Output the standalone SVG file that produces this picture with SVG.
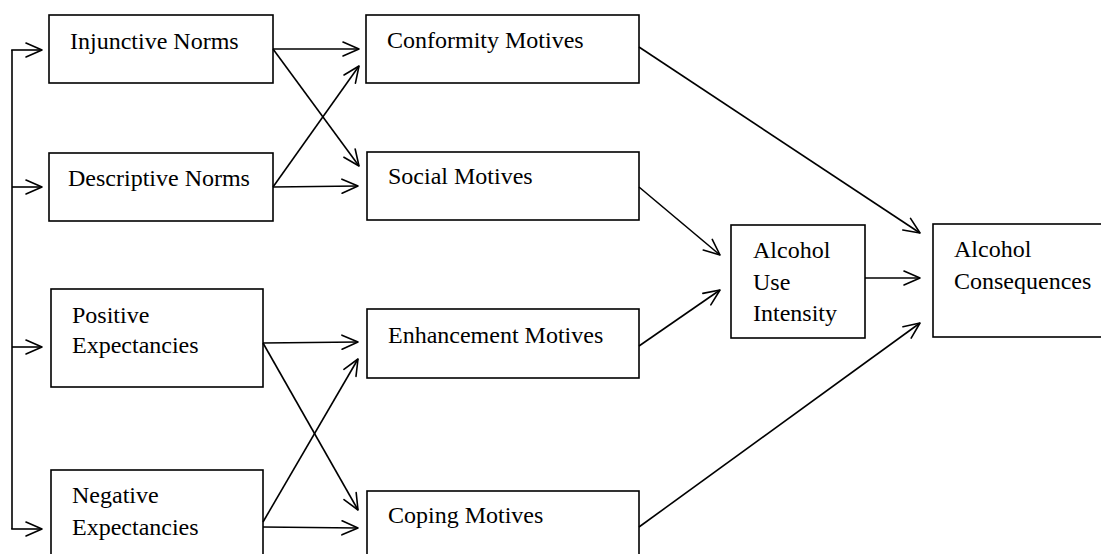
<svg xmlns="http://www.w3.org/2000/svg" width="1101" height="554" viewBox="0 0 1101 554">
<style>
.box{fill:#fff;stroke:#000;stroke-width:1.6}
.t{font-family:"Liberation Serif","Times New Roman","DejaVu Serif",serif;font-size:24px;fill:#000}
.c line{stroke:#000;stroke-width:1.6;marker-end:url(#ah)}
</style>
<defs>
<marker id="ah" markerUnits="userSpaceOnUse" viewBox="-18 -9 20 18" markerWidth="20" markerHeight="18" refX="0" refY="0" orient="auto" overflow="visible">
<path d="M-16,-7 L0,0 L-16,7" fill="none" stroke="#000" stroke-width="1.6" stroke-linejoin="round" stroke-linecap="round"/>
</marker>
</defs>
<rect width="1101" height="554" fill="#fff"/>
<g id="injunctive-norms"><rect class="box" x="49" y="15" width="224" height="68"/><text class="t" x="70" y="49">Injunctive Norms</text></g>
<g id="descriptive-norms"><rect class="box" x="49" y="153" width="224" height="68"/><text class="t" x="68" y="186">Descriptive Norms</text></g>
<g id="positive-expectancies"><rect class="box" x="51" y="289" width="212" height="98"/><text class="t" x="72" y="323">Positive</text><text class="t" x="72" y="353">Expectancies</text></g>
<g id="negative-expectancies"><rect class="box" x="51" y="470" width="212" height="110"/><text class="t" x="72" y="503">Negative</text><text class="t" x="72" y="535">Expectancies</text></g>
<g id="conformity-motives"><rect class="box" x="366" y="15" width="273" height="68"/><text class="t" x="387" y="48">Conformity Motives</text></g>
<g id="social-motives"><rect class="box" x="367" y="152" width="272" height="68"/><text class="t" x="388" y="184">Social Motives</text></g>
<g id="enhancement-motives"><rect class="box" x="367" y="309" width="272" height="69"/><text class="t" x="388" y="343">Enhancement Motives</text></g>
<g id="coping-motives"><rect class="box" x="367" y="491" width="272" height="90"/><text class="t" x="388" y="523">Coping Motives</text></g>
<g id="alcohol-use-intensity"><rect class="box" x="731" y="225" width="134" height="113"/><text class="t" x="753" y="258">Alcohol</text><text class="t" x="753" y="290">Use</text><text class="t" x="753" y="321">Intensity</text></g>
<g id="alcohol-consequences"><rect class="box" x="933" y="224" width="200" height="113"/><text class="t" x="954" y="257">Alcohol</text><text class="t" x="954" y="289">Consequences</text></g>
<g id="connectors" class="c">
<path d="M12,50 L12,529" stroke="#000" stroke-width="1.6" fill="none"/>
<line x1="11.2" y1="50" x2="42" y2="50"/>
<line x1="12" y1="187" x2="42" y2="187"/>
<line x1="12" y1="347" x2="42" y2="347"/>
<line x1="11.2" y1="529" x2="42" y2="529"/>
<line x1="273" y1="49" x2="359" y2="49"/>
<line x1="273" y1="49" x2="359" y2="166"/>
<line x1="273" y1="187" x2="359" y2="66"/>
<line x1="273" y1="187" x2="358" y2="186"/>
<line x1="263" y1="343" x2="358" y2="342"/>
<line x1="263" y1="343" x2="358" y2="510"/>
<line x1="263" y1="522" x2="358" y2="359"/>
<line x1="263" y1="527" x2="358" y2="528"/>
<line x1="639" y1="47" x2="920" y2="233"/>
<line x1="639" y1="187" x2="720" y2="255"/>
<line x1="639" y1="346" x2="720" y2="290"/>
<line x1="639" y1="527" x2="920" y2="323"/>
<line x1="865" y1="278" x2="920" y2="278"/>
</g>
</svg>
